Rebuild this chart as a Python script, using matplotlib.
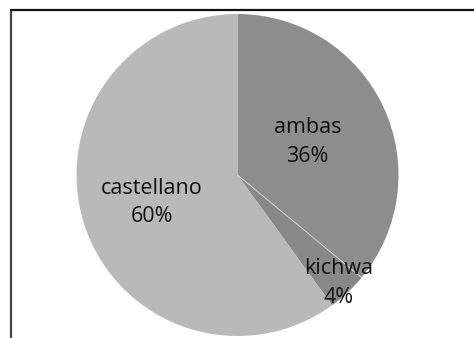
import numpy as np
import matplotlib
matplotlib.use("Agg")
from matplotlib import pyplot as plt

labels = ["ambas", "kichwa", "castellano"]
shares = [36, 4, 60]
colors = ["#8d8d8d", "#888888", "#b9b9b9"]
label_dist = [0.48, 0.92, 0.56]

fig = plt.figure(figsize=(4.74, 3.38), dpi=100)
ax = fig.add_axes([0, 0, 1, 1])

cx, cy, r = 237.5, 163, 161
wedges, _ = ax.pie(shares, colors=colors, startangle=90, counterclock=False,
                   center=(cx, cy), radius=r, frame=True,
                   wedgeprops=dict(linewidth=0))
ax.set_xlim(0, 474)
ax.set_ylim(0, 338)
ax.set_aspect("equal")
ax.axis("off")

# thin light seam between ambas and kichwa
a = np.deg2rad(wedges[0].theta1)
ax.plot([cx, cx + r * np.cos(a)], [cy, cy + r * np.sin(a)], color="#d8d8d8", lw=0.6)

for w, lab, s, d in zip(wedges, labels, shares, label_dist):
    mid = np.deg2rad((w.theta1 + w.theta2) / 2)
    x = cx + d * r * np.cos(mid)
    y = cy + d * r * np.sin(mid)
    ax.text(x, y, f"{lab}\n{s}%", ha="center", va="center", fontsize=15.5,
            family="Open Sans", color="#111111", linespacing=1.45)

# chart frame: left and top edges
ax.plot([11, 11], [0, 328], color="#444444", lw=1.6, solid_capstyle="butt")
ax.plot([10.2, 474], [328, 328], color="#111111", lw=1.6, solid_capstyle="butt")

fig.savefig("out.png", dpi=100)
